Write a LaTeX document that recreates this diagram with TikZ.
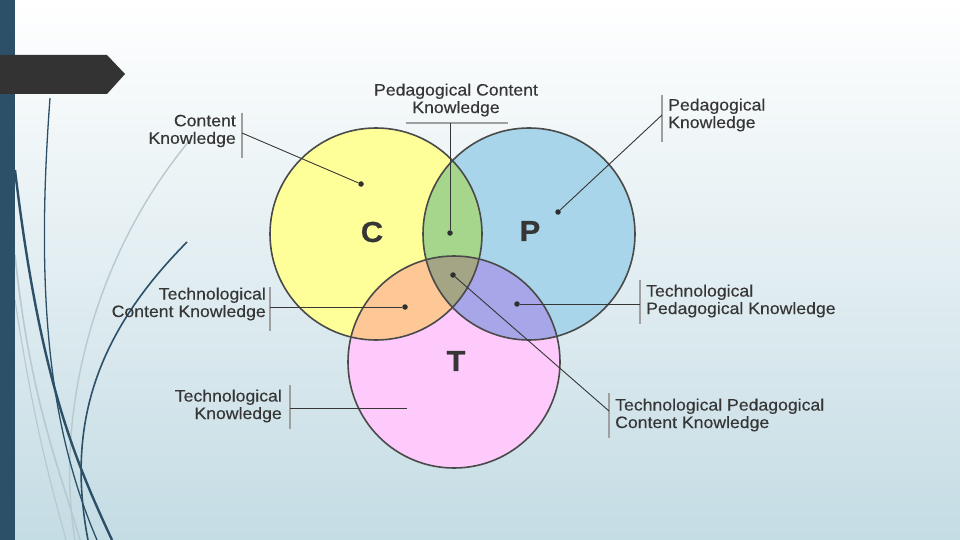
\documentclass[tikz,border=0pt]{standalone}
\usepackage{fontspec}
\setmainfont{Liberation Sans}
\newfontfamily\lblfont[FakeStretch=1.07, FakeBold=0.35]{Liberation Sans}
\usetikzlibrary{positioning, calc}
\definecolor{slidebar}{HTML}{2C5068}
\definecolor{tabgray}{HTML}{333333}
\definecolor{bgbottom}{HTML}{C4DCE4}
\definecolor{swish}{HTML}{B8C9D0}
\definecolor{ringcol}{HTML}{4A4A4A}
\definecolor{txt}{HTML}{363636}
\definecolor{cyel}{HTML}{FFFF99}
\definecolor{pblu}{HTML}{A8D5EA}
\definecolor{tpnk}{HTML}{FDCAFB}
\definecolor{cpgrn}{HTML}{A6D68C}
\definecolor{ctorg}{HTML}{FDC895}
\definecolor{ptpur}{HTML}{A6A6E8}
\definecolor{ctrgry}{HTML}{A3A585}

\begin{document}
\begin{tikzpicture}[x=1pt, y=-1pt,
    lab/.style={font=\lblfont\fontsize{16.5}{17.5}\selectfont, text=txt, inner sep=0pt},
    big/.style={font=\lblfont\bfseries\fontsize{29}{29}\selectfont, text=txt, inner sep=0pt},
    dot/.style={circle, fill=txt!85!black, inner sep=0pt, minimum size=5.5pt},
    bar/.style={draw=gray!75, line width=1.3pt},
    lead/.style={draw=txt, line width=0.9pt},
    ring/.style={draw=ringcol, line width=1.6pt},
]
\def\rad{106pt}
\useasboundingbox (0,0) rectangle (960,540);

% ---------------- slide background
\shade[top color=white, middle color=bgbottom!45!white, bottom color=bgbottom]
    (0,0) rectangle (960,540);
\draw[swish, line width=1.4pt] (190,140) .. controls (90,260) and (55,420) .. (75,540);
\draw[swish, line width=1.6pt] (15,255) .. controls (30,400) and (60,470) .. (80,540);
\draw[swish, line width=1.2pt] (15,300) .. controls (35,430) and (50,480) .. (66,540);
\draw[slidebar, line width=1.3pt] (50,98) .. controls (35,300) and (50,430) .. (97,540);
\draw[slidebar, line width=2.4pt] (15,170) .. controls (40,380) and (75,460) .. (112,540);
\draw[slidebar, line width=1.6pt] (187,242) .. controls (100,330) and (65,420) .. (88,540);
\fill[slidebar] (0,0) rectangle (15,540);
\fill[tabgray] (0,55) -- (107,55) -- (125,74) -- (107,94) -- (0,94) -- cycle;

% ---------------- circles
\coordinate (cC) at (376,234);
\coordinate (cP) at (529,234);
\coordinate (cT) at (454,362);
\fill[cyel] (cC) circle (\rad);
\fill[pblu] (cP) circle (\rad);
\fill[tpnk] (cT) circle (\rad);
\begin{scope}
    \clip (cC) circle (\rad);
    \fill[cpgrn] (cP) circle (\rad);
    \fill[ctorg] (cT) circle (\rad);
\end{scope}
\begin{scope}
    \clip (cP) circle (\rad);
    \fill[ptpur] (cT) circle (\rad);
\end{scope}
\begin{scope}
    \clip (cC) circle (\rad);
    \clip (cP) circle (\rad);
    \fill[ctrgry] (cT) circle (\rad);
\end{scope}
\foreach \c in {cC, cP, cT}{
    \draw[ring] (\c) circle (\rad);
}
\node[big] (lC) at (372,232) {C};
\node[big] (lP) at (530,231) {P};
\node[big] (lT) at (456,361) {T};

% ---------------- dots
\node[dot] (dC) at (361,184) {};
\node[dot] (dCP) at (450,233) {};
\node[dot] (dP) at (558,212) {};
\node[dot] (dCT) at (405,307) {};
\node[dot] (dPT) at (517,304) {};
\node[dot] (dCPT) at (453,275) {};
\coordinate (dT) at (407,408);

% ---------------- labels
\node[lab, align=right, anchor=east] (ck) at (236,131) {Content\\Knowledge};
\node[lab, align=center] (pck) at (456,100) {Pedagogical Content\\Knowledge};
\node[lab, align=left, anchor=west] (pk) at (668,115) {Pedagogical\\Knowledge};
\node[lab, align=right, anchor=east] (tck) at (266,304) {Technological\\Content Knowledge};
\node[lab, align=right, anchor=east] (tk) at (282,406) {Technological\\Knowledge};
\node[lab, align=left, anchor=west] (tpk) at (646,301) {Technological\\Pedagogical Knowledge};
\node[lab, align=left, anchor=west] (tpck) at (615,415) {Technological Pedagogical\\Content Knowledge};

% ---------------- bars and leads
\draw[bar] (242,113) -- (242,158);
\draw[bar] (406,123) -- (508,123);
\draw[bar] (662,95) -- (662,142);
\draw[bar] (270,287) -- (270,331);
\draw[bar] (290,385) -- (290,429);
\draw[bar] (640,280) -- (640,324);
\draw[bar] (609,393) -- (609,438);
\coordinate (ckb) at (242,133);
\coordinate (pckb) at (450,123);
\coordinate (pkb) at (662,115);
\coordinate (tckb) at (270,307);
\coordinate (tkb) at (290,408);
\coordinate (tpkb) at (640,304);
\coordinate (tpckb) at (609,411);
\foreach \a/\b in {ckb/dC, pckb/dCP, pkb/dP, tckb/dCT, tkb/dT, tpkb/dPT, tpckb/dCPT}{
    \draw[lead] (\a) -- (\b);
}

\end{tikzpicture}
\end{document}
